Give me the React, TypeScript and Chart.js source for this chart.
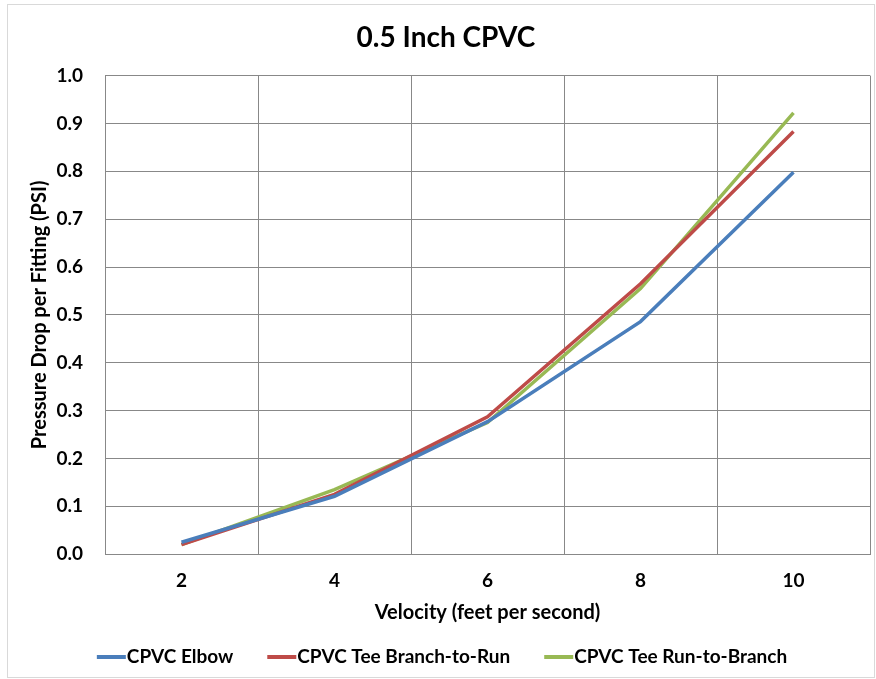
import React, { useEffect, useRef } from "react";
import { Chart, registerables } from "chart.js";

Chart.register(...registerables);

const categories = ["2", "4", "6", "8", "10"];
const elbow = [0.025, 0.121, 0.277, 0.486, 0.798];
const teeBranchToRun = [0.02, 0.125, 0.287, 0.565, 0.883];
const teeRunToBranch = [0.02, 0.135, 0.275, 0.555, 0.922];

const FONT = "Lato, 'Open Sans', sans-serif";

const bottomLegend = {
  id: "bottomLegend",
  afterDraw(chart: any) {
    const ctx = chart.ctx;
    const sets = chart.data.datasets;
    const lineW = 29;
    const gap = 1;
    const spacing = 34;
    ctx.save();
    ctx.font = `bold 19px ${FONT}`;
    const widths = sets.map((d: any) => ctx.measureText(d.label).width);
    const total = widths.reduce((a: number, w: number) => a + lineW + gap + w, 0) + spacing * (sets.length - 1);
    let x = (chart.width - total) / 2;
    const y = chart.height - 22;
    ctx.textBaseline = "middle";
    ctx.textAlign = "left";
    sets.forEach((d: any, i: number) => {
      ctx.strokeStyle = d.borderColor;
      ctx.lineWidth = 4;
      ctx.beginPath();
      ctx.moveTo(x, y);
      ctx.lineTo(x + lineW, y);
      ctx.stroke();
      ctx.fillStyle = "#000";
      ctx.fillText(d.label, x + lineW + gap, y);
      x += lineW + gap + widths[i] + spacing;
    });
    ctx.restore();
  },
};

export default function App() {
  const ref = useRef<HTMLCanvasElement | null>(null);
  useEffect(() => {
    document.body.style.margin = "0";
    const chart = new Chart(ref.current!, {
      type: "line",
      data: {
        labels: categories,
        datasets: [
          { label: "CPVC Elbow", data: elbow, borderColor: "#4a7ebb", backgroundColor: "#4a7ebb" },
          { label: "CPVC Tee Branch-to-Run", data: teeBranchToRun, borderColor: "#be4b48", backgroundColor: "#be4b48" },
          { label: "CPVC Tee Run-to-Branch", data: teeRunToBranch, borderColor: "#98b954", backgroundColor: "#98b954" },
        ].map((d) => ({ ...d, borderWidth: 3.5, pointRadius: 0, tension: 0, fill: false })),
      },
      plugins: [bottomLegend],
      options: {
        animation: false,
        responsive: false,
        layout: { padding: { left: 14, right: 6, top: 0, bottom: 56 } },
        plugins: {
          title: {
            display: true,
            text: "0.5 Inch CPVC",
            color: "#000",
            font: { family: FONT, size: 28, weight: "bold" },
            padding: { top: 16, bottom: 21 },
          },
          legend: { display: false },
          tooltip: { enabled: false },
        },
        scales: {
          x: {
            type: "category",
            offset: true,
            grid: { offset: true, color: "#888", lineWidth: 1, drawTicks: false },
            border: { color: "#888", width: 1 },
            ticks: { color: "#000", font: { family: FONT, size: 19, weight: "bold" }, padding: 15 },
            title: {
              display: true,
              text: "Velocity (feet per second)",
              color: "#000",
              font: { family: FONT, size: 20, weight: "bold", lineHeight: 1 },
              padding: { top: -4, bottom: 0 },
            },
          },
          y: {
            min: 0,
            max: 1,
            afterFit: (s: any) => {
              s.width = 83;
            },
            grid: { color: "#888", lineWidth: 1, drawTicks: false },
            border: { color: "#888", width: 1 },
            ticks: {
              stepSize: 0.1,
              color: "#000",
              font: { family: FONT, size: 19, weight: "bold" },
              padding: 22,
              callback: (v: any) => Number(v).toFixed(1),
            },
            title: {
              display: true,
              text: "Pressure Drop per Fitting (PSI)",
              color: "#000",
              font: { family: FONT, size: 20, weight: "bold" },
              padding: { top: 6, bottom: 4 },
            },
          },
        },
      },
    });
    return () => chart.destroy();
  }, []);
  return (
    <div style={{ position: "absolute", left: 0, top: 0, width: 876, height: 679, background: "#fff" }}>
      <div style={{ position: "absolute", left: 7, top: 4, width: 868, height: 674, border: "1px solid #d9d9d9", boxSizing: "border-box" }} />
      <canvas ref={ref} width={868} height={674} style={{ position: "absolute", left: 8, top: 5 }} />
    </div>
  );
}
